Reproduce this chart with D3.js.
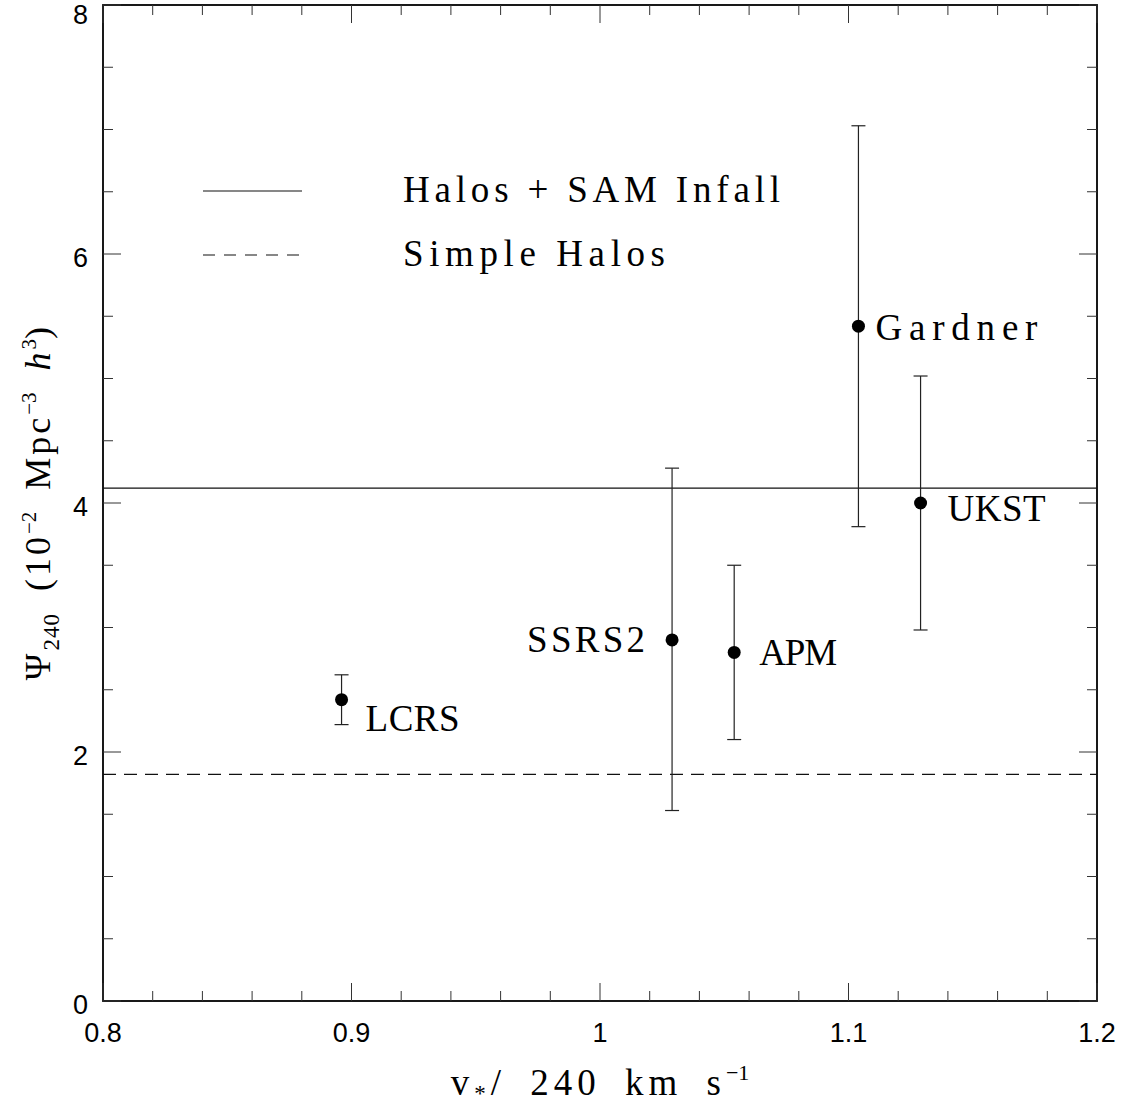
<!DOCTYPE html>
<html lang="en">
<head>
    <meta charset="UTF-8">
    <title>Psi240 vs v*</title>
    <script src="https://d3js.org/d3.v7.min.js"></script>
    <style>
        body { margin: 0; background: #fff; }
        .serif { font-family: "Liberation Serif", "DejaVu Serif", serif; }
        .sans { font-family: "Liberation Sans", Arial, sans-serif; }
    </style>
</head>
<body>
    <svg width="1122" height="1108"></svg>
    <script>
        // data
        const surveys = ["LCRS", "SSRS2", "APM", "Gardner", "UKST"];
        const vstar   = [0.896, 1.029, 1.054, 1.104, 1.129];
        const psi     = [2.42, 2.90, 2.80, 5.42, 4.00];
        const errLo   = [2.22, 1.53, 2.10, 3.81, 2.98];
        const errHi   = [2.62, 4.28, 3.50, 7.03, 5.02];
        const labelSide = ["right", "left", "right", "right", "right"];

        const modelNames  = ["Halos + SAM Infall", "Simple Halos"];
        const modelValues = [4.12, 1.82];
        const modelDash   = [null, "13,8"];

        const xTicks = [0.8, 0.9, 1, 1.1, 1.2];
        const yTicks = [0, 2, 4, 6, 8];

        const width = 1122, height = 1108;
        const margin = {top: 5, right: 25, bottom: 107, left: 103};

        const svg = d3.select("svg");

        const x = d3.scaleLinear().domain([0.8, 1.2]).range([margin.left, width - margin.right]);
        const y = d3.scaleLinear().domain([0, 8]).range([height - margin.bottom, margin.top]);

        // frame
        svg.append("rect")
            .attr("x", x(0.8)).attr("y", y(8))
            .attr("width", x(1.2) - x(0.8)).attr("height", y(0) - y(8))
            .attr("fill", "none").attr("stroke", "#000").attr("stroke-width", 1.8);

        // ticks inside, on all four sides
        const xMinor = d3.range(0.8, 1.2001, 0.02);
        const yMinor = d3.range(0, 8.001, 0.5);
        const isMajor = (v, step) => Math.abs(v / step - Math.round(v / step)) < 1e-6;

        const tickG = svg.append("g").attr("stroke", "#333").attr("stroke-width", 1);
        xMinor.forEach(v => {
            const len = isMajor(v, 0.1) ? 18 : 10;
            tickG.append("line").attr("x1", x(v)).attr("x2", x(v))
                .attr("y1", y(0)).attr("y2", y(0) - len);
            tickG.append("line").attr("x1", x(v)).attr("x2", x(v))
                .attr("y1", y(8)).attr("y2", y(8) + len);
        });
        yMinor.forEach(v => {
            const len = isMajor(v, 2) ? 18 : 10;
            tickG.append("line").attr("y1", y(v)).attr("y2", y(v))
                .attr("x1", x(0.8)).attr("x2", x(0.8) + len);
            tickG.append("line").attr("y1", y(v)).attr("y2", y(v))
                .attr("x1", x(1.2)).attr("x2", x(1.2) - len);
        });

        // tick labels
        svg.append("g").selectAll("text").data(xTicks).join("text")
            .attr("class", "sans")
            .attr("x", d => x(d)).attr("y", y(0) + 41)
            .attr("text-anchor", "middle").attr("font-size", 27)
            .text(d => d);
        svg.append("g").selectAll("text").data(yTicks).join("text")
            .attr("class", "sans")
            .attr("x", x(0.8) - 15).attr("y", d => Math.max(y(d) + 13, 24))
            .attr("text-anchor", "end").attr("font-size", 27)
            .text(d => d);

        // model lines
        modelValues.forEach((v, i) => {
            svg.append("line")
                .attr("x1", x(0.8)).attr("x2", x(1.2))
                .attr("y1", y(v)).attr("y2", y(v))
                .attr("stroke", "#111").attr("stroke-width", 1.2)
                .attr("stroke-dasharray", modelDash[i]);
        });

        // legend
        modelNames.forEach((name, i) => {
            const ly = 191 + i * 64;
            svg.append("line")
                .attr("x1", 203).attr("x2", 302).attr("y1", ly).attr("y2", ly)
                .attr("stroke", "#111").attr("stroke-width", 1.2)
                .attr("stroke-dasharray", modelDash[i] ? "12,9" : null);
            svg.append("text").attr("class", "serif")
                .attr("x", 403).attr("y", ly + 11)
                .attr("font-size", 37)
                .attr("textLength", i === 0 ? 377 : 262)
                .attr("lengthAdjust", "spacing")
                .text(name);
        });

        // error bars and points
        const pts = surveys.map((s, i) => ({
            name: s, x: vstar[i], y: psi[i], lo: errLo[i], hi: errHi[i], side: labelSide[i]
        }));
        const eb = svg.append("g").attr("stroke", "#222").attr("stroke-width", 1.2);
        pts.forEach(d => {
            eb.append("line").attr("x1", x(d.x)).attr("x2", x(d.x))
                .attr("y1", y(d.lo)).attr("y2", y(d.hi));
            [d.lo, d.hi].forEach(v => {
                eb.append("line").attr("x1", x(d.x) - 7).attr("x2", x(d.x) + 7)
                    .attr("y1", y(v)).attr("y2", y(v));
            });
        });
        svg.append("g").selectAll("circle").data(pts).join("circle")
            .attr("cx", d => x(d.x)).attr("cy", d => y(d.y)).attr("r", 6.5)
            .attr("fill", "#000");

        // point labels (offset in px, target width in px)
        const labelOffset = {
            LCRS:    [24, 31, 94],
            SSRS2:   [-27, 12, 118],
            APM:     [25, 13, 78],
            Gardner: [17, 14, 162],
            UKST:    [27, 18, 98]
        };
        svg.append("g").selectAll("text").data(pts).join("text")
            .attr("class", "serif")
            .attr("x", d => x(d.x) + labelOffset[d.name][0])
            .attr("y", d => y(d.y) + labelOffset[d.name][1])
            .attr("text-anchor", d => d.side === "left" ? "end" : "start")
            .attr("font-size", 37)
            .attr("textLength", d => labelOffset[d.name][2])
            .attr("lengthAdjust", "spacing")
            .text(d => d.name);

        // x axis title
        const xt = svg.append("text").attr("class", "serif")
            .attr("x", 600).attr("y", 1095)
            .attr("text-anchor", "middle").attr("font-size", 37)
            .attr("letter-spacing", 5).attr("word-spacing", 10);
        xt.append("tspan").text("v");
        xt.append("tspan").attr("font-size", 23).attr("dy", 6).text("*");
        xt.append("tspan").attr("dy", -6).text("/ 240 km s");
        xt.append("tspan").attr("font-size", 22).attr("dy", -15).attr("letter-spacing", 0).text("−1");

        // y axis title
        const yt = svg.append("text").attr("class", "serif")
            .attr("transform", "translate(50,502) rotate(-90)")
            .attr("text-anchor", "middle").attr("font-size", 36)
            .attr("letter-spacing", 3).attr("word-spacing", 10);
        yt.append("tspan").text("Ψ");
        yt.append("tspan").attr("font-size", 23).attr("dy", 9).attr("letter-spacing", 1).text("240");
        yt.append("tspan").attr("dy", -9).text(" (10");
        yt.append("tspan").attr("font-size", 21).attr("dy", -14).attr("letter-spacing", 0).text("−2");
        yt.append("tspan").attr("dy", 14).text(" Mpc");
        yt.append("tspan").attr("font-size", 21).attr("dy", -14).attr("letter-spacing", 0).text("−3");
        yt.append("tspan").attr("dy", 14).attr("font-style", "italic").text(" h");
        yt.append("tspan").attr("font-size", 21).attr("dy", -14).attr("letter-spacing", 0).text("3");
        yt.append("tspan").attr("dy", 14).text(")");
    </script>
</body>
</html>
